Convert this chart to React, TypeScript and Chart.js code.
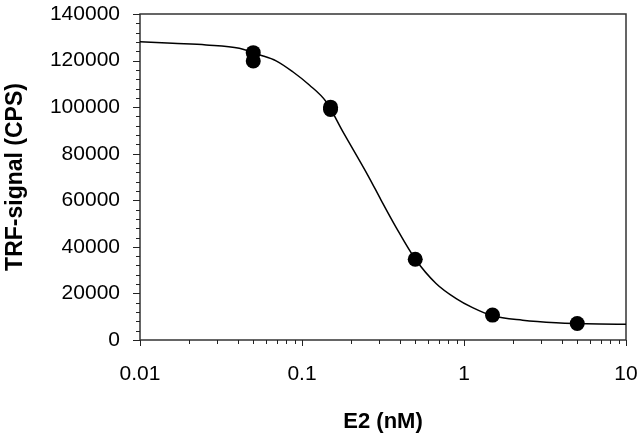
import React, { useEffect, useRef } from "react";
import { Chart, registerables } from "chart.js";

Chart.register(...registerables);

// Measured data points (E2 concentration in nM, TRF signal in CPS)
const pointConc = [0.05, 0.05, 0.15, 0.15, 0.5, 1.5, 5];
const pointSignal = [123400, 119800, 100000, 99000, 34700, 10700, 7100];

// Fitted curve
const fitConc = [0.01, 0.0159, 0.0256, 0.041, 0.0546, 0.0692, 0.0877, 0.111, 0.141, 0.178, 0.258, 0.3076, 0.38, 0.5, 0.672, 0.89, 1.13, 1.5, 2.3, 3.7, 6.84, 10];
const fitSignal = [128100, 127400, 126700, 125300, 122500, 119900, 115200, 109500, 102300, 89700, 70100, 60100, 48500, 34800, 24300, 17900, 13900, 10400, 8500, 7430, 6870, 6800];

// Axis ticks
const xMajorTicks = [0.01, 0.1, 1, 10];
const xTickLabels = ["0.01", "0.1", "1", "10"];
const yMajorTicks = [0, 20000, 40000, 60000, 80000, 100000, 120000, 140000];
const yTickLabels = ["0", "20000", "40000", "60000", "80000", "100000", "120000", "140000"];
const yMinorStep = 4000;

const FONT = "'Liberation Sans', Arial, Helvetica, sans-serif";

const framePlugin = {
  id: "frameTicks",
  beforeDatasetsDraw(chart: any) {
    const { ctx, chartArea: a, scales } = chart;
    ctx.save();
    ctx.strokeStyle = "#333";
    ctx.lineWidth = 1.5;
    ctx.strokeRect(a.left, a.top, a.right - a.left, a.bottom - a.top);
    ctx.strokeStyle = "#222";
    ctx.lineWidth = 1;
    ctx.beginPath();
    const yMin = yMajorTicks[0];
    const yMax = yMajorTicks[yMajorTicks.length - 1];
    for (let v = yMin; v <= yMax; v += yMinorStep) {
      const y = Math.round(scales.y.getPixelForValue(v)) + 0.5;
      const len = yMajorTicks.includes(v) ? 7 : 4;
      ctx.moveTo(a.left - len, y);
      ctx.lineTo(a.left, y);
    }
    for (let d = 0; d < xMajorTicks.length; d++) {
      const base = xMajorTicks[d];
      const x0 = Math.round(scales.x.getPixelForValue(base)) + 0.5;
      ctx.moveTo(x0, a.bottom);
      ctx.lineTo(x0, a.bottom + 6);
      if (d < xMajorTicks.length - 1) {
        for (let m = 2; m <= 9; m++) {
          const x = Math.round(scales.x.getPixelForValue(base * m)) + 0.5;
          ctx.moveTo(x, a.bottom);
          ctx.lineTo(x, a.bottom + 4);
        }
      }
    }
    ctx.stroke();
    ctx.restore();
  },
};

export default function App() {
  const ref = useRef<HTMLCanvasElement>(null);
  useEffect(() => {
    if (!ref.current) return;
    const chart = new Chart(ref.current, {
      type: "scatter",
      data: {
        datasets: [
          {
            label: "fit",
            data: fitConc.map((x, i) => ({ x, y: fitSignal[i] })),
            showLine: true,
            borderColor: "#000",
            borderWidth: 1.5,
            pointRadius: 0,
            cubicInterpolationMode: "monotone",
            order: 2,
          },
          {
            label: "data",
            data: pointConc.map((x, i) => ({ x, y: pointSignal[i] })),
            showLine: false,
            backgroundColor: "#000",
            borderColor: "#000",
            pointRadius: 7.5,
            borderWidth: 0,
            order: 1,
          },
        ],
      },
      options: {
        responsive: false,
        animation: false,
        events: [],
        layout: { padding: { top: 14, right: 14, left: 0, bottom: 0 } },
        plugins: { legend: { display: false }, tooltip: { enabled: false } },
        scales: {
          x: {
            type: "logarithmic",
            position: "bottom",
            min: 0.01,
            max: 10,
            afterBuildTicks: (s: any) => {
              s.ticks = xMajorTicks.map((v) => ({ value: v }));
            },
            afterFit: (s: any) => {
              s.height = 93;
              s.paddingLeft = 0;
              s.paddingRight = 0;
            },
            grid: { drawOnChartArea: false, drawTicks: true, tickLength: 6, color: "transparent", tickColor: "transparent" },
            border: { display: false },
            ticks: {
              autoSkip: false,
              maxRotation: 0,
              padding: 16,
              color: "#000",
              font: { family: FONT, size: 21 },
              callback: (_v: any, i: number) => xTickLabels[i],
            },
            title: {
              display: true,
              text: "E2 (nM)",
              color: "#000",
              font: { family: FONT, size: 22, weight: "bold" },
              padding: { top: 0, bottom: -2 },
            },
          },
          y: {
            type: "linear",
            min: 0,
            max: 140000,
            afterBuildTicks: (s: any) => {
              s.ticks = yMajorTicks.map((v) => ({ value: v }));
            },
            afterFit: (s: any) => {
              s.width = 140;
              s.paddingTop = 0;
              s.paddingBottom = 0;
            },
            grid: { drawOnChartArea: false, drawTicks: true, tickLength: 7, color: "transparent", tickColor: "transparent" },
            border: { display: false },
            ticks: {
              padding: 13,
              color: "#000",
              font: { family: FONT, size: 21 },
              callback: (_v: any, i: number) => yTickLabels[i],
            },
            title: {
              display: true,
              text: "TRF-signal (CPS)",
              color: "#000",
              font: { family: FONT, size: 23, weight: "bold" },
              padding: { top: 2, bottom: 0 },
            },
          },
        },
      },
      plugins: [framePlugin],
    } as any);
    return () => chart.destroy();
  }, []);
  return (
    <div style={{ position: "absolute", left: 0, top: 0, width: 640, height: 433, background: "#fff" }}>
      <canvas ref={ref} width={640} height={433} style={{ display: "block" }} />
    </div>
  );
}
